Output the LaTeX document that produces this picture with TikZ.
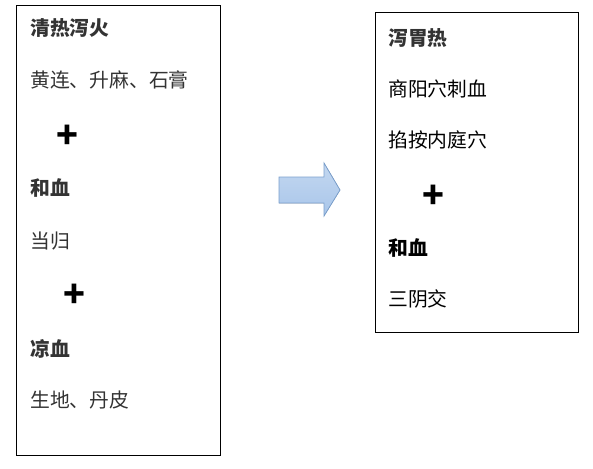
\documentclass[tikz,border=0pt]{standalone}
\usepackage{fontspec}
\newfontfamily\cjk{Noto Sans CJK SC}
\usetikzlibrary{shapes.arrows}
\definecolor{txt}{HTML}{333333}
\definecolor{arrfill}{HTML}{A9C6EA}
\definecolor{arrdraw}{HTML}{7BA0CD}
\begin{document}
\begin{tikzpicture}[x=1pt,y=-1pt,
  item/.style={anchor=west,inner sep=0pt,font=\cjk\fontsize{19.8}{22}\selectfont,text=txt},
  head/.style={item,font=\cjk\bfseries\fontsize{19.8}{22}\selectfont},
  plus/.style={inner sep=0pt,font=\cjk\bfseries\fontsize{36}{36}\selectfont,text=black},
  box/.style={draw=black,line width=0.8pt}]
\useasboundingbox (0,0) rectangle (593,468);
\draw[box] (16,5) rectangle (220,455);
\draw[box] (375,12) rectangle (578,332);
% left
\node[head] (l1) at (30,28) {清热泻火};
\node[item] (l2) at (30,80) {黄连、升麻、石膏};
\node[plus] (p1) at (67,137) {+};
\node[head] (l3) at (30,188) {和血};
\node[item] (l4) at (30,241) {当归};
\node[plus] (p2) at (74,296) {+};
\node[head] (l5) at (30,349) {凉血};
\node[item] (l6) at (30,400) {生地、丹皮};
% right
\node[head] (r1) at (388,38) {泻胃热};
\node[item,text=black] (r2) at (388,89) {商阳穴刺血};
\node[item,text=black] (r3) at (388,140) {掐按内庭穴};
\node[plus] (p3) at (433,197) {+};
\node[head,text=black] (r4) at (388,248) {和血};
\node[item,text=black] (r5) at (388,299) {三阴交};
% arrow
\fill[top color=arrfill!70!white,bottom color=arrfill] (279,177) -- (324,177) -- (324,163) -- (340,190) -- (324,216) -- (324,203) -- (279,203) -- cycle;
\draw[arrdraw,line width=0.8pt,line join=miter] (279,177) -- (324,177) -- (324,163) -- (340,190) -- (324,216) -- (324,203) -- (279,203) -- cycle;
\end{tikzpicture}
\end{document}
